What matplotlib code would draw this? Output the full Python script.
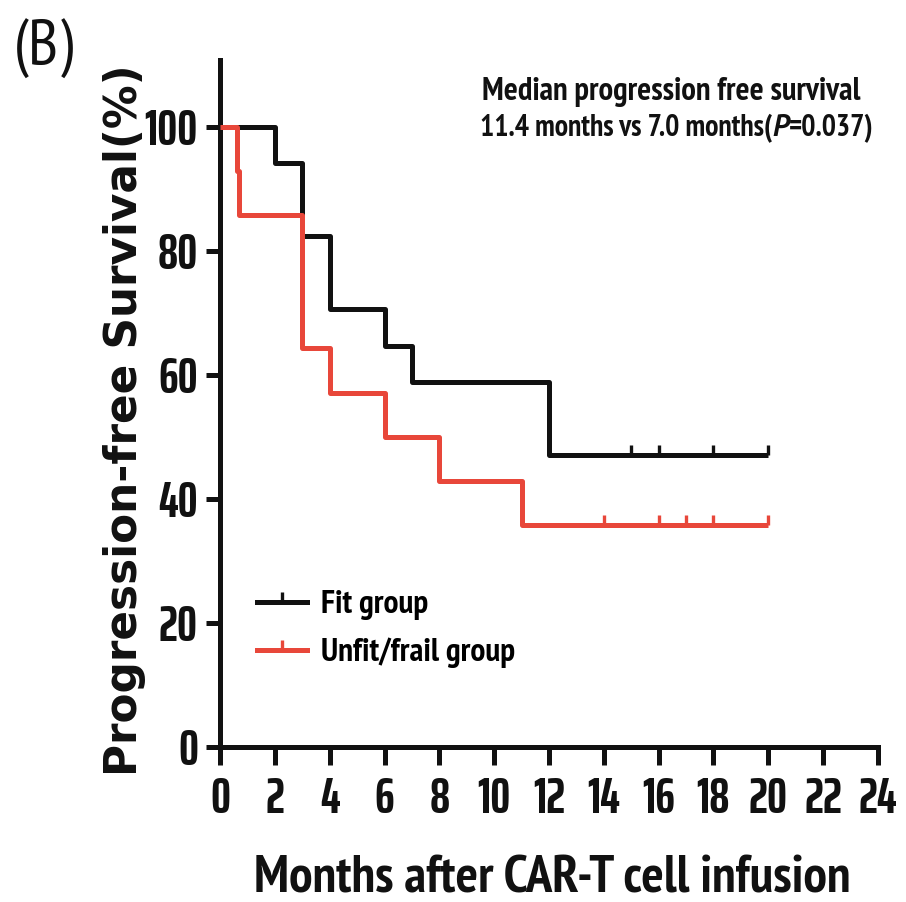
import matplotlib
matplotlib.use("Agg")
import matplotlib.pyplot as plt
from matplotlib.path import Path
from matplotlib.lines import Line2D
from matplotlib.offsetbox import TextArea, HPacker, AnchoredOffsetbox

# Kaplan-Meier steps (months, % surviving)
FIT_T = [0, 2, 3, 4, 6, 7, 12, 20]
FIT_S = [100, 94.1, 82.4, 70.6, 64.7, 58.8, 47.1, 47.1]
FIT_CENS = [15, 16, 18, 20]

UNFIT_T = [0, 0.6, 0.68, 3, 4, 6, 8, 11, 20]
UNFIT_S = [100, 92.9, 85.7, 64.3, 57.1, 50.0, 42.9, 35.7, 35.7]
UNFIT_CENS = [14, 16, 17, 18, 20]

XTICKS = list(range(0, 25, 2))
YTICKS = [0, 20, 40, 60, 80, 100]

BLACK = "#111111"
RED = "#e8473a"
NARROW = ["PT Sans Narrow", "DejaVu Sans"]
TICKFONT = ["Saira ExtraCondensed", "DejaVu Sans"]

UP = Path([(0, 0), (0, 1)])  # censor tick drawn upwards from the curve


def surv_at(ts, ss, t):
    v = ss[0]
    for ti, si in zip(ts, ss):
        if ti <= t:
            v = si
    return v


fig = plt.figure(figsize=(9.06, 9.02), dpi=100)
ax = fig.add_axes([0.243, 0.172, 0.726, 0.762])

for ts, ss, cens, col in [(FIT_T, FIT_S, FIT_CENS, BLACK), (UNFIT_T, UNFIT_S, UNFIT_CENS, RED)]:
    ax.step(ts, ss, where="post", color=col, lw=3.6, solid_capstyle="butt", zorder=3)
    ax.plot(cens, [surv_at(ts, ss, c) for c in cens], ls="none", marker=UP,
            ms=15, mew=2.4, color=col, zorder=3)

ax.set_xlim(0, 24)
ax.set_ylim(0, 110.8)
ax.set_xticks(XTICKS)
ax.set_yticks(YTICKS)
for s in ["top", "right"]:
    ax.spines[s].set_visible(False)
for s in ["left", "bottom"]:
    ax.spines[s].set_linewidth(3.6)
    ax.spines[s].set_color(BLACK)
ax.tick_params(axis="x", length=13, width=3.6, pad=8, color=BLACK)
ax.tick_params(axis="y", length=10, width=3.6, pad=6, color=BLACK)
for lab in ax.get_xticklabels() + ax.get_yticklabels():
    lab.set_fontfamily(TICKFONT)
    lab.set_fontweight("bold")
    lab.set_fontsize(36)
    lab.set_color(BLACK)

ax.set_xlabel("Months after CAR-T cell infusion", fontsize=38, fontweight="bold",
              family=NARROW, color=BLACK)
ax.xaxis.set_label_coords(0.505, -0.158)
ax.set_ylabel("Progression-free Survival(%)", fontsize=31.5, fontweight="bold",
              family="DejaVu Sans", color=BLACK)
ax.yaxis.set_label_coords(-0.112, 0.475)

# annotation: median PFS, the P is italic
fig.text(0.532, 0.889, "Median progression free survival", fontsize=23.5,
         fontweight="bold", family=NARROW, color=BLACK, va="baseline")
tp = dict(fontsize=21.5, fontweight="bold", family=NARROW, color=BLACK)
tp_it = dict(fontsize=21.5, fontweight="bold", fontstyle="italic",
             family=["PT Sans", "DejaVu Sans"], color=BLACK)
line2 = HPacker(children=[TextArea("11.4 months vs 7.0 months(", textprops=tp),
                          TextArea("P", textprops=tp_it),
                          TextArea("=0.037)", textprops=tp)],
                pad=0, sep=0, align="baseline")
ax.add_artist(AnchoredOffsetbox(loc="lower left", child=line2, pad=0, borderpad=0,
                                frameon=False, bbox_to_anchor=(0.530, 0.842),
                                bbox_transform=fig.transFigure))

handles = [Line2D([], [], color=BLACK, lw=3.6, marker=UP, ms=15, mew=2.4),
           Line2D([], [], color=RED, lw=3.6, marker=UP, ms=15, mew=2.4)]
leg = fig.legend(handles, ["Fit group", "Unfit/frail group"], loc="upper left",
                 bbox_to_anchor=(0.284, 0.346), frameon=False, numpoints=1,
                 borderpad=0, borderaxespad=0,
                 handlelength=1.5, handletextpad=0.4, labelspacing=0.52,
                 prop={"family": NARROW, "weight": "bold", "size": 24})

fig.text(0.015, 0.928, "(B)", fontsize=46, family=NARROW,
         color=BLACK, va="baseline")

fig.savefig("out.png", dpi=100)
